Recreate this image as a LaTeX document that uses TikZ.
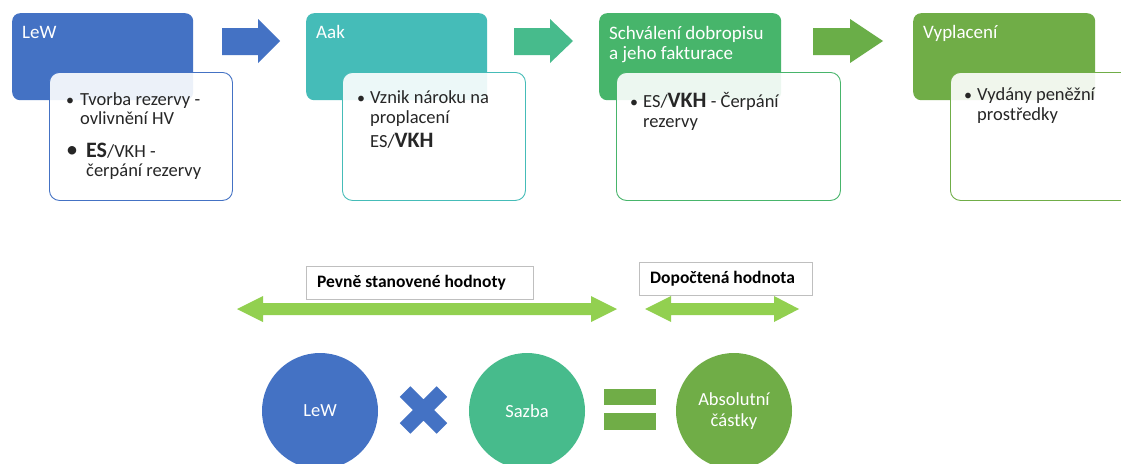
\documentclass[tikz,border=0pt]{standalone}
\usepackage{fontspec}
\setmainfont{Carlito}
\definecolor{cblue}{HTML}{4472C4}
\definecolor{cteal}{HTML}{45BCB8}
\definecolor{carr}{HTML}{47BB8C}
\definecolor{cgreen}{HTML}{47B56B}
\definecolor{colive}{HTML}{70AD47}
\definecolor{carr3}{HTML}{6AAE48}
\definecolor{clight}{HTML}{92D050}
\definecolor{cgray}{HTML}{BFBFBF}
\definecolor{ctext}{HTML}{262626}
\tikzset{
  hdr/.style={rounded corners=8pt, inner sep=0pt, anchor=north west, minimum width=181pt, minimum height=87pt},
  inbox/.style={draw, line width=0.9pt, fill=white, fill opacity=0.9, rounded corners=10pt, anchor=north west, inner sep=0pt, minimum height=128pt},
  htxt/.style={anchor=base west, inner sep=0pt, text=white, font=\fontsize{19}{21}\selectfont},
  txt/.style={anchor=base west, inner sep=0pt, text=ctext, font=\fontsize{18.5}{20}\selectfont},
  bul/.style={anchor=base west, inner sep=0pt, text=ctext, font=\fontsize{16}{20}\selectfont},
  lbl/.style={draw=cgray, line width=0.8pt, fill=white, inner sep=0pt, anchor=north west},
  ltxt/.style={anchor=west, inner sep=0pt, text=black, font=\bfseries\fontsize{17.5}{20}\selectfont},
  circ/.style={circle, minimum size=116pt, inner sep=0pt, text=white, font=\fontsize{18.5}{21}\selectfont, align=center},
}
\begin{document}
\begin{tikzpicture}[x=1pt,y=-1pt]
\fill[white] (0,0) rectangle (1121,463);
\useasboundingbox (0,0) rectangle (1121,463);

% header boxes
\node[hdr, fill=cblue] (h1) at (12,13) {};
\node[hdr, fill=cteal] (h2) at (306,13) {};
\node[hdr, fill=cgreen, minimum width=182pt] (h3) at (599,13) {};
\node[hdr, fill=colive, minimum width=182pt] (h4) at (913,13) {};

\node[htxt] (h1t) at (22,38) {LeW};
\node[htxt] (h2t) at (316,38) {Aak};
\node[htxt] (h3t) at (609,39) {Schválení dobropisu};
\node[htxt] (h3u) at (609,59.5) {a jeho fakturace};
\node[htxt] (h4t) at (923,38) {Vyplacení};

% inner boxes
\node[inbox, draw=cblue, minimum width=183pt] (b1) at (49,72) {};
\node[inbox, draw=cteal, minimum width=183pt] (b2) at (342,72) {};
\node[inbox, draw=cgreen, minimum width=224pt] (b3) at (616,72) {};
\node[inbox, draw=colive, minimum width=200pt] (b4) at (950,72) {};

% box 1 text
\node[bul] (b1p) at (66,105) {•};
\node[txt] (b1a) at (80,105) {Tvorba rezervy -};
\node[txt] (b1b) at (80,124) {ovlivnění HV};
\node[bul, font=\fontsize{24}{24}\selectfont] (b1q) at (66,157) {•};
\node[txt] (b1c) at (86,157) {{\bfseries\fontsize{22}{22}\selectfont ES}/VKH -};
\node[txt] (b1d) at (86,176) {čerpání rezervy};

% box 2 text
\node[bul] (b2p) at (357,103) {•};
\node[txt] (b2a) at (370,103) {Vznik nároku na};
\node[txt] (b2b) at (370,123) {proplacení};
\node[txt] (b2c) at (370,147) {ES/{\bfseries\fontsize{22}{22}\selectfont VKH}};

% box 3 text
\node[bul] (b3p) at (630,107) {•};
\node[txt] (b3a) at (643,107) {ES/{\bfseries\fontsize{22}{22}\selectfont VKH} - Čerpání};
\node[txt] (b3b) at (643,127) {rezervy};

% box 4 text
\node[bul] (b4p) at (964,100) {•};
\node[txt] (b4a) at (977,100) {Vydány peněžní};
\node[txt] (b4b) at (977,120) {prostředky};

% block arrows
\fill[cblue] (222,28) -- (258,28) -- (258,19) -- (280,41) -- (258,63) -- (258,55) -- (222,55) -- cycle;
\fill[carr] (514,28) -- (550,28) -- (550,19) -- (573,41) -- (550,63) -- (550,55) -- (514,55) -- cycle;
\fill[carr3] (813,28) -- (850,28) -- (850,19) -- (883,41) -- (850,63) -- (850,55) -- (813,55) -- cycle;

% double arrows
\fill[clight] (237,309) -- (263,296) -- (263,303) -- (591,303) -- (591,296) -- (617,309) -- (591,322) -- (591,315) -- (263,315) -- (263,322) -- cycle;
\fill[clight] (645,309) -- (671,296) -- (671,303) -- (774,303) -- (774,296) -- (799,309) -- (774,322) -- (774,315) -- (671,315) -- (671,322) -- cycle;

% labels
\node[lbl, minimum width=227pt, minimum height=33pt] (l1) at (306,266) {};
\node[ltxt] (l1t) at (317,282.5) {Pevně stanovené hodnoty};
\node[lbl, minimum width=173pt, minimum height=33pt] (l2) at (639,262) {};
\node[ltxt] (l2t) at (650,278.5) {Dopočtená hodnota};

% circles
\node[circ, fill=cblue] (c1) at (320,411) {LeW};
\node[circ, fill=carr] (c2) at (527,411) {Sazba};
\node[circ, fill=colive] (c3) at (734,411) {Absolutní\\částky};

% multiply sign
\fill[cblue, shift={(423.5,410)}, rotate=45] (-7.5,-26) -- (7.5,-26) -- (7.5,-7.5) -- (26,-7.5) -- (26,7.5) -- (7.5,7.5) -- (7.5,26) -- (-7.5,26) -- (-7.5,7.5) -- (-26,7.5) -- (-26,-7.5) -- (-7.5,-7.5) -- cycle;

% equals sign
\fill[colive] (604,389) rectangle (656,405);
\fill[colive] (604,413) rectangle (656,430);
\end{tikzpicture}
\end{document}
